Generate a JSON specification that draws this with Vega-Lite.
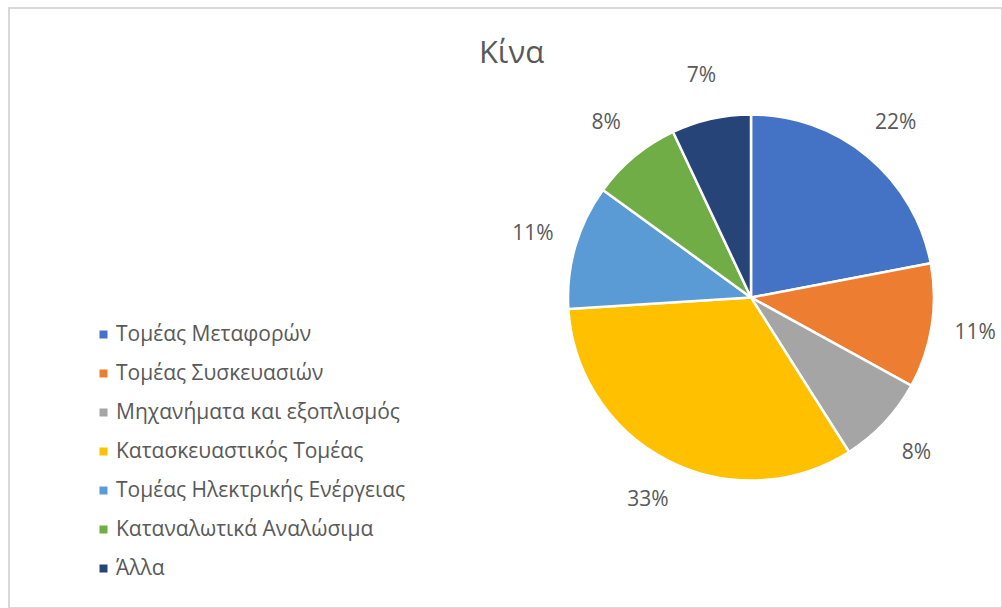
{
  "$schema": "https://vega.github.io/schema/vega-lite/v6.json",
  "width": 993,
  "height": 600,
  "autosize": {"type": "none"},
  "padding": {"left": 9, "top": 8, "right": 0, "bottom": 0},
  "background": "white",
  "view": {"stroke": "#D9D9D9", "strokeWidth": 2},
  "config": {
    "view": {"stroke": "#D9D9D9", "strokeWidth": 2},
    "font": "Open Sans"
  },
  "title": {
    "text": "Κίνα",
    "fontSize": 31,
    "fontWeight": "normal",
    "color": "#595959",
    "font": "Open Sans",
    "baseline": "alphabetic",
    "offset": -86,
    "dx": 6,
    "anchor": "middle"
  },
  "data": {
    "values": [
      {"i": 1, "sector": "Τομέας Μεταφορών", "share": 22, "label": "22%"},
      {"i": 2, "sector": "Τομέας Συσκευασιών", "share": 11, "label": "11%"},
      {"i": 3, "sector": "Μηχανήματα και εξοπλισμός", "share": 8, "label": "8%"},
      {"i": 4, "sector": "Κατασκευαστικός Τομέας", "share": 33, "label": "33%"},
      {"i": 5, "sector": "Τομέας Ηλεκτρικής Ενέργειας", "share": 11, "label": "11%"},
      {"i": 6, "sector": "Καταναλωτικά Αναλώσιμα", "share": 8, "label": "8%"},
      {"i": 7, "sector": "Άλλα", "share": 7, "label": "7%"}
    ]
  },
  "encoding": {
    "theta": {"field": "share", "type": "quantitative", "stack": true},
    "order": {"field": "i", "type": "quantitative"}
  },
  "layer": [
    {
      "mark": {"type": "arc", "outerRadius": 183, "x": 742, "y": 289.5, "stroke": "white", "strokeWidth": 2.5},
      "encoding": {
        "color": {
          "field": "sector",
          "type": "nominal",
          "scale": {
            "domain": ["Τομέας Μεταφορών", "Τομέας Συσκευασιών", "Μηχανήματα και εξοπλισμός", "Κατασκευαστικός Τομέας", "Τομέας Ηλεκτρικής Ενέργειας", "Καταναλωτικά Αναλώσιμα", "Άλλα"],
            "range": ["#4472C4", "#ED7D31", "#A5A5A5", "#FFC000", "#5B9BD5", "#70AD47", "#264478"]
          },
          "legend": {
            "title": null,
            "orient": "none",
            "legendX": 84,
            "legendY": 316,
            "padding": 0,
            "symbolType": "square",
            "symbolSize": 64,
            "symbolStrokeWidth": 0,
            "labelFontSize": 21,
            "labelFont": "Open Sans",
            "labelColor": "#595959",
            "labelOffset": 2,
            "rowPadding": 17,
            "labelLimit": 400
          }
        }
      }
    },
    {
      "mark": {"type": "text", "radius": 227, "x": 742, "y": 289.5, "fontSize": 21, "color": "#595959", "font": "Open Sans"},
      "encoding": {
        "text": {"field": "label", "type": "nominal"}
      }
    }
  ]
}
